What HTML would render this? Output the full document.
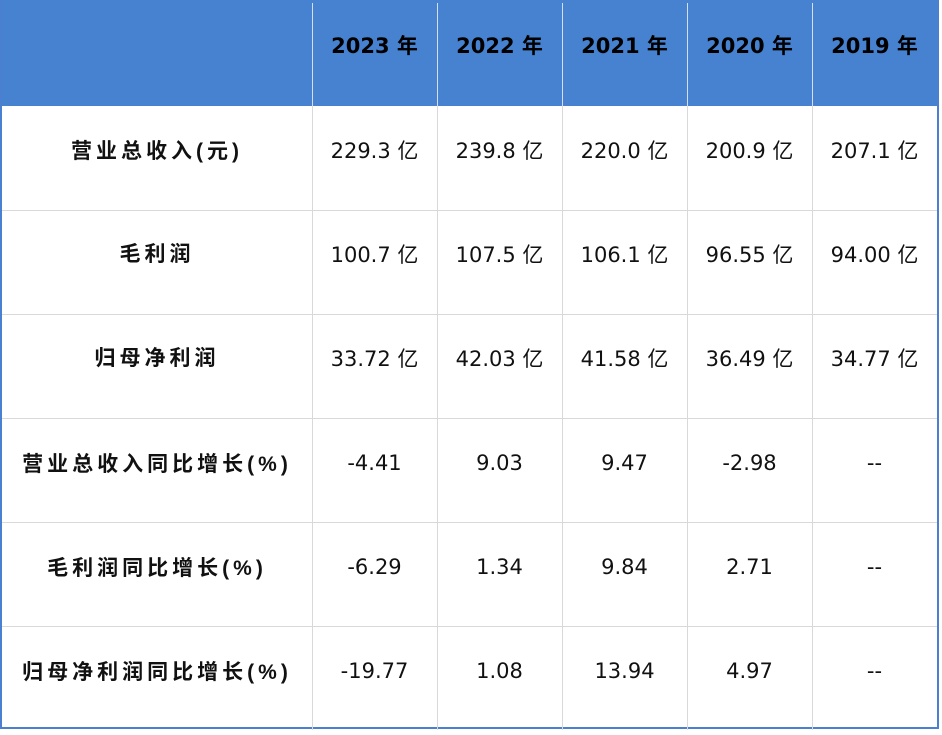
<!DOCTYPE html>
<html><head><meta charset="utf-8"><style>
body{margin:0;width:942px;height:735px;background:#fff;position:relative;overflow:hidden;font-family:"DejaVu Sans","Noto Sans CJK SC",sans-serif;}
.frame{position:absolute;left:0;top:0;width:935px;height:727px;border:2px solid #4a80cf;border-top:none;}
.hdr{position:absolute;left:0;top:0;width:939px;height:106px;background:#4682d0;}
.c{position:absolute;display:flex;align-items:center;justify-content:center;font-size:21px;color:#111;box-sizing:border-box;white-space:nowrap;}
.h{font-weight:bold;font-size:21px;color:#000;}
.l{font-weight:bold;letter-spacing:4px;font-family:"Liberation Sans","Noto Sans CJK SC",sans-serif;}
.vl{position:absolute;width:1px;background:#d9d9d9;}
.hl{position:absolute;height:1px;background:#d9d9d9;left:2px;width:935px;}
.vh{position:absolute;width:1px;background:#d6dff0;top:3px;height:103px;}
</style></head><body>
<div class="hdr"></div>
<div class="frame"></div>
<div class="vh" style="left:312px"></div><div class="vh" style="left:437px"></div><div class="vh" style="left:562px"></div><div class="vh" style="left:687px"></div><div class="vh" style="left:812px"></div>
<div class="vl" style="left:312px;top:106px;height:624px"></div>
<div class="vl" style="left:437px;top:106px;height:624px"></div>
<div class="vl" style="left:562px;top:106px;height:624px"></div>
<div class="vl" style="left:687px;top:106px;height:624px"></div>
<div class="vl" style="left:812px;top:106px;height:624px"></div>
<div class="hl" style="top:210px"></div><div class="hl" style="top:314px"></div><div class="hl" style="top:418px"></div><div class="hl" style="top:522px"></div><div class="hl" style="top:626px"></div>

<div class="c h" style="left:312px;top:0;width:125px;height:90px">2023 年</div>
<div class="c h" style="left:437px;top:0;width:125px;height:90px">2022 年</div>
<div class="c h" style="left:562px;top:0;width:125px;height:90px">2021 年</div>
<div class="c h" style="left:687px;top:0;width:125px;height:90px">2020 年</div>
<div class="c h" style="left:812px;top:0;width:125px;height:90px">2019 年</div>

<div class="c l" style="left:2px;top:106px;width:310px;height:88px">营业总收入(元)</div>
<div class="c" style="left:312px;top:106px;width:125px;height:88px">229.3 亿</div>
<div class="c" style="left:437px;top:106px;width:125px;height:88px">239.8 亿</div>
<div class="c" style="left:562px;top:106px;width:125px;height:88px">220.0 亿</div>
<div class="c" style="left:687px;top:106px;width:125px;height:88px">200.9 亿</div>
<div class="c" style="left:812px;top:106px;width:125px;height:88px">207.1 亿</div>

<div class="c l" style="left:2px;top:210px;width:310px;height:86px">毛利润</div>
<div class="c" style="left:312px;top:210px;width:125px;height:88px">100.7 亿</div>
<div class="c" style="left:437px;top:210px;width:125px;height:88px">107.5 亿</div>
<div class="c" style="left:562px;top:210px;width:125px;height:88px">106.1 亿</div>
<div class="c" style="left:687px;top:210px;width:125px;height:88px">96.55 亿</div>
<div class="c" style="left:812px;top:210px;width:125px;height:88px">94.00 亿</div>

<div class="c l" style="left:2px;top:314px;width:310px;height:86px">归母净利润</div>
<div class="c" style="left:312px;top:314px;width:125px;height:88px">33.72 亿</div>
<div class="c" style="left:437px;top:314px;width:125px;height:88px">42.03 亿</div>
<div class="c" style="left:562px;top:314px;width:125px;height:88px">41.58 亿</div>
<div class="c" style="left:687px;top:314px;width:125px;height:88px">36.49 亿</div>
<div class="c" style="left:812px;top:314px;width:125px;height:88px">34.77 亿</div>

<div class="c l" style="left:2px;top:418px;width:310px;height:90px">营业总收入同比增长(%)</div>
<div class="c" style="left:312px;top:418px;width:125px;height:90px">-4.41</div>
<div class="c" style="left:437px;top:418px;width:125px;height:90px">9.03</div>
<div class="c" style="left:562px;top:418px;width:125px;height:90px">9.47</div>
<div class="c" style="left:687px;top:418px;width:125px;height:90px">-2.98</div>
<div class="c" style="left:812px;top:418px;width:125px;height:90px">--</div>

<div class="c l" style="left:2px;top:522px;width:310px;height:90px">毛利润同比增长(%)</div>
<div class="c" style="left:312px;top:522px;width:125px;height:90px">-6.29</div>
<div class="c" style="left:437px;top:522px;width:125px;height:90px">1.34</div>
<div class="c" style="left:562px;top:522px;width:125px;height:90px">9.84</div>
<div class="c" style="left:687px;top:522px;width:125px;height:90px">2.71</div>
<div class="c" style="left:812px;top:522px;width:125px;height:90px">--</div>

<div class="c l" style="left:2px;top:626px;width:310px;height:90px">归母净利润同比增长(%)</div>
<div class="c" style="left:312px;top:626px;width:125px;height:90px">-19.77</div>
<div class="c" style="left:437px;top:626px;width:125px;height:90px">1.08</div>
<div class="c" style="left:562px;top:626px;width:125px;height:90px">13.94</div>
<div class="c" style="left:687px;top:626px;width:125px;height:90px">4.97</div>
<div class="c" style="left:812px;top:626px;width:125px;height:90px">--</div>
</body></html>
